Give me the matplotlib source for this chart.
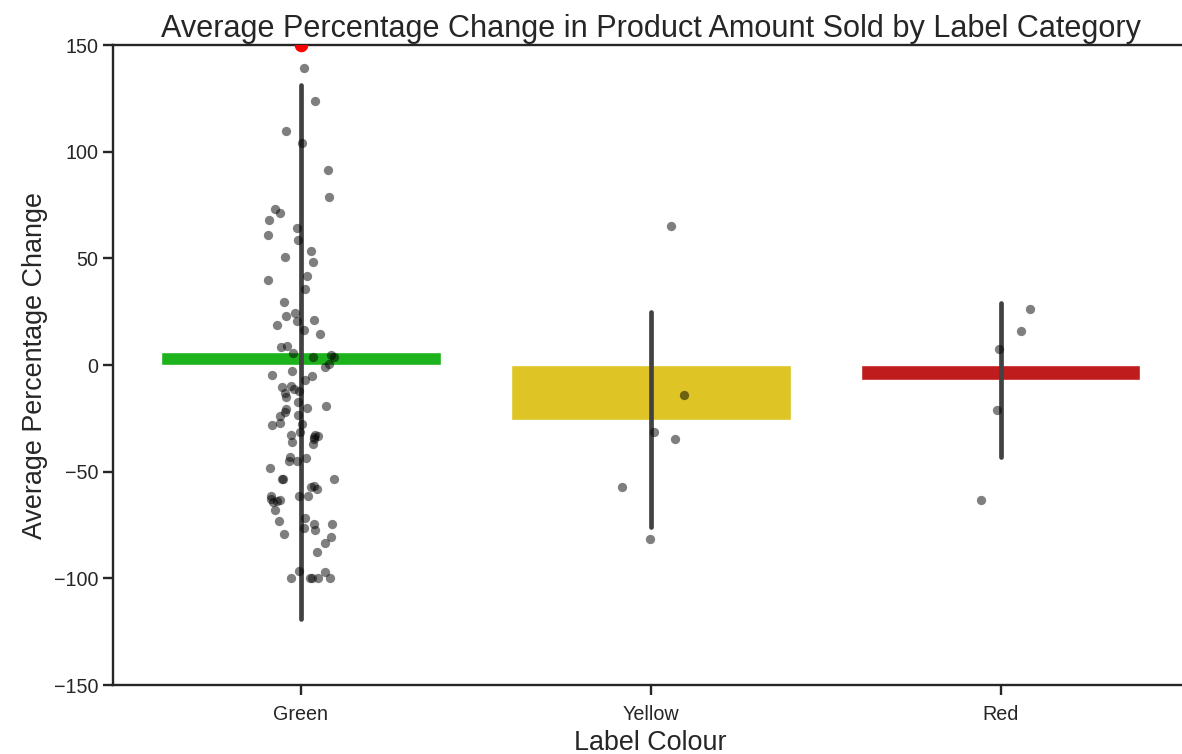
import numpy as np
import pandas as pd
import matplotlib
matplotlib.use("Agg")
import matplotlib.pyplot as plt
import seaborn as sns

# Percentage change in amount sold per product, grouped by label colour
categories = ["Green", "Yellow", "Red"]

green_change = [
    139.4, 123.8, 109.5, 104.2, 91.3, 78.9, 73.0, 71.1, 68.0, 64.1, 60.8, 58.7,
    53.6, 50.5, 48.4, 41.9, 39.8, 35.5, 29.7, 24.4, 23.0, 21.1, 20.5, 18.6,
    16.4, 14.5, 9.0, 8.3, 5.5, 4.5, 3.9, 3.6, 0.3, -0.8, -3.0, -4.8, -5.0,
    -7.0, -9.8, -10.2, -11.4, -12.0, -13.3, -15.1, -17.2, -19.2, -20.3, -20.8,
    -22.2, -23.4, -23.9, -27.0, -27.5, -28.1, -31.5, -32.8, -32.8, -33.3,
    -33.9, -34.7, -36.0, -37.2, -43.3, -43.7, -45.0, -45.0, -48.4, -53.4,
    -53.4, -53.4, -56.7, -57.3, -58.3, -61.3, -61.4, -61.5, -62.8, -63.3,
    -63.9, -64.1, -68.0, -71.6, -73.1, -74.5, -74.7, -76.5, -77.3, -79.4,
    -80.8, -83.6, -87.5, -96.4, -97.2, -100.0, -100.0, -100.0, -100.0, -100.0,
]
# products whose change lies far above the plotted range
green_large = [545.0, 555.0, 568.0, 582.0]

yellow_change = [65.3, -13.9, -34.7, -31.5, -57.3, -81.6]
red_change = [26.3, 15.9, 7.4, -21.1, -63.3]

bar_colors = ["#1db31d", "#dfc425", "#bf1d1d"]
y_ticks = [-150, -100, -50, 0, 50, 100, 150]

df = pd.DataFrame({
    "Label Colour": (["Green"] * (len(green_change) + len(green_large))
                     + ["Yellow"] * len(yellow_change)
                     + ["Red"] * len(red_change)),
    "Average Percentage Change": green_change + green_large + yellow_change + red_change,
})

sns.set_theme(style="ticks")
plt.rcParams["font.family"] = ["Liberation Sans", "DejaVu Sans"]
plt.rcParams["text.color"] = ".15"
plt.rcParams["axes.labelcolor"] = ".15"
plt.rcParams["xtick.color"] = ".15"
plt.rcParams["ytick.color"] = ".15"

fig = plt.figure(figsize=(11.82, 7.54), dpi=100)
ax = fig.add_axes([0.0956, 0.0915, 0.9098, 0.8488])

sns.barplot(data=df, x="Label Colour", y="Average Percentage Change",
            order=categories, hue="Label Colour", hue_order=categories,
            palette=bar_colors, saturation=1, errorbar="sd", legend=False,
            err_kws={"color": ".26", "linewidth": 3.4}, ax=ax)

np.random.seed(3)
sns.stripplot(data=df, x="Label Colour", y="Average Percentage Change",
              order=categories, color="black", alpha=0.5, size=6.7,
              jitter=0.1, linewidth=0, ax=ax)

# mark off-scale values at the top edge of the axis
y_top = y_ticks[-1]
for i, cat in enumerate(categories):
    vals = df.loc[df["Label Colour"] == cat, "Average Percentage Change"]
    if (vals > y_top).any():
        ax.scatter([i], [y_top], s=95, color="red", zorder=5, clip_on=True,
                   linewidths=0)

ax.set_ylim(y_ticks[0], y_ticks[-1])
ax.set_yticks(y_ticks)
ax.set_xlim(-0.537, 2.537)

for side in ax.spines.values():
    side.set_linewidth(1.7)
    side.set_color(".15")
ax.tick_params(axis="both", length=7.2, width=1.7, labelsize=14.2)
ax.tick_params(axis="x", pad=7.0)

ax.set_title("Average Percentage Change in Product Amount Sold by Label Category",
             fontsize=22.1)
ax.set_xlabel("Label Colour", fontsize=19.4, labelpad=4.5)
ax.set_ylabel("Average Percentage Change", fontsize=19.4)

fig.savefig("out.png", dpi=100)
